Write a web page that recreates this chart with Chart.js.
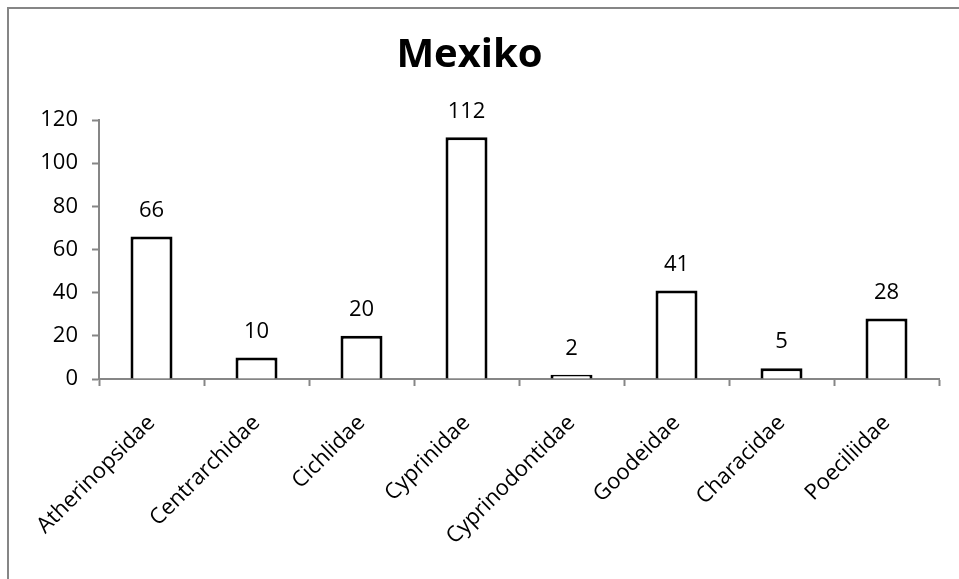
<!DOCTYPE html>
<html>
<head>
<meta charset="utf-8">
<script src="https://cdn.jsdelivr.net/npm/chart.js@4"></script>
<style>
  html, body { margin: 0; padding: 0; background: #fff; }
  #wrap { width: 959px; height: 579px; position: relative; }
</style>
</head>
<body>
<div id="wrap"><canvas id="chart"></canvas></div>
<script>
const families = ['Atherinopsidae', 'Centrarchidae', 'Cichlidae', 'Cyprinidae',
  'Cyprinodontidae', 'Goodeidae', 'Characidae', 'Poeciliidae'];
const species = [66, 10, 20, 112, 2, 41, 5, 28];
const yTicks = [0, 20, 40, 60, 80, 100, 120];

const axisGray = '#868686';
const fontFamily = '"Open Sans", "Noto Sans", sans-serif';

// grey frame round the chart, open on the right and bottom like the original
const framePlugin = {
  id: 'frame',
  beforeDraw(chart) {
    const ctx = chart.ctx;
    ctx.save();
    ctx.fillStyle = '#fff';
    ctx.fillRect(0, 0, chart.width, chart.height);
    ctx.strokeStyle = axisGray;
    ctx.lineWidth = 2;
    ctx.beginPath();
    ctx.moveTo(8, chart.height);
    ctx.lineTo(8, 8);
    ctx.lineTo(chart.width, 8);
    ctx.stroke();
    ctx.restore();
  }
};

// value labels above each bar
const valueLabels = {
  id: 'valueLabels',
  afterDatasetsDraw(chart) {
    const ctx = chart.ctx;
    const meta = chart.getDatasetMeta(0);
    ctx.save();
    ctx.font = '22px ' + fontFamily;
    ctx.fillStyle = '#000';
    ctx.textAlign = 'center';
    ctx.textBaseline = 'middle';
    meta.data.forEach((bar, i) => {
      ctx.fillText(String(species[i]), bar.x, bar.y - 26);
    });
    ctx.restore();
  }
};

new Chart(document.getElementById('chart'), {
  type: 'bar',
  data: {
    labels: families,
    datasets: [{
      data: species,
      backgroundColor: '#fff',
      borderColor: '#000',
      borderWidth: 3,
      barPercentage: 0.4,
      categoryPercentage: 1
    }]
  },
  options: {
    responsive: true,
    maintainAspectRatio: false,
    animation: false,
    layout: { padding: { left: 0, right: 20, top: 0, bottom: 0 } },
    plugins: {
      legend: { display: false },
      tooltip: { enabled: false },
      title: {
        display: true,
        text: 'Mexiko',
        color: '#000',
        font: { family: fontFamily, size: 40, weight: 'bold' },
        padding: { top: 32, bottom: 40 }
      }
    },
    scales: {
      x: {
        afterFit(scale) { scale.height = 200; },
        border: { color: axisGray, width: 2 },
        grid: {
          offset: true,
          drawOnChartArea: false,
          drawTicks: true,
          tickLength: 7,
          tickColor: axisGray,
          tickWidth: 2
        },
        ticks: {
          color: '#000',
          font: { family: fontFamily, size: 22 },
          minRotation: 45,
          maxRotation: 45,
          autoSkip: false,
          padding: 24
        }
      },
      y: {
        min: 0,
        max: 120,
        afterFit(scale) { scale.width = 99; },
        afterBuildTicks(scale) { scale.ticks = yTicks.map(v => ({ value: v })); },
        border: { color: axisGray, width: 2 },
        grid: {
          drawOnChartArea: false,
          drawTicks: true,
          tickLength: 7,
          tickColor: axisGray,
          tickWidth: 2
        },
        ticks: {
          color: '#000',
          font: { family: fontFamily, size: 22 },
          padding: 14
        }
      }
    }
  },
  plugins: [framePlugin, valueLabels]
});
</script>
</body>
</html>
